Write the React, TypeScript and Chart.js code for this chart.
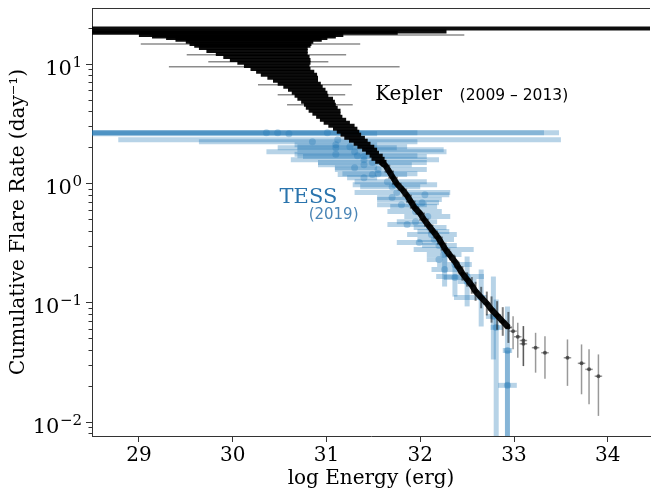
import React, { useEffect, useRef } from "react";
import { Chart, registerables } from "chart.js";

Chart.register(...registerables);

// ---------------- data ----------------
// Kepler: dense cumulative distribution (each row = one flare with energy uncertainty)
const keplerWedgeEnergy = [31.45, 30.29, 30.03, 30.09, 30.12, 30.15, 30.17, 30.18, 30.19, 30.21, 30.22, 30.26, 30.31, 30.36, 30.40, 30.44, 30.47, 30.51, 30.56, 30.60, 30.64, 30.67, 30.71, 30.75, 30.79, 30.82, 30.84, 30.88, 30.91, 30.93, 30.95, 30.98, 31.00, 31.03, 31.07, 31.11, 31.16, 31.20, 31.23, 31.26, 31.30, 31.34, 31.38, 31.42, 31.46, 31.49, 31.53, 31.55, 31.58];
const keplerWedgeEnergyErr = [3.15, 1.99, 1.73, 1.09, 0.98, 0.86, 0.78, 0.68, 0.65, 0.62, 0.58, 0.54, 0.49, 0.46, 0.43, 0.39, 0.35, 0.32, 0.31, 0.30, 0.27, 0.24, 0.23, 0.21, 0.20, 0.19, 0.18, 0.19, 0.18, 0.17, 0.17, 0.17, 0.15, 0.14, 0.14, 0.14, 0.14, 0.13, 0.12, 0.11, 0.11, 0.10, 0.09, 0.09, 0.08, 0.07, 0.07, 0.07, 0.06];
const keplerWedgeRate = [19.8, 18.7, 18.2, 17.5, 17.0, 16.5, 15.9, 15.3, 14.7, 14.2, 13.6, 12.8, 12.1, 11.4, 10.8, 10.2, 9.62, 9.08, 8.58, 8.09, 7.64, 7.21, 6.80, 6.43, 6.06, 5.72, 5.40, 5.09, 4.81, 4.54, 4.28, 4.05, 3.82, 3.60, 3.40, 3.21, 3.03, 2.86, 2.70, 2.55, 2.40, 2.27, 2.14, 2.02, 1.91, 1.80, 1.70, 1.60, 1.51];

// Kepler: isolated long energy error bars
const keplerLongEnergy = [30.15, 30.79, 30.19, 30.36, 30.38, 30.55, 30.77, 30.84, 30.93];
const keplerLongEnergyErr = [1.57, 1.68, 1.17, 0.85, 0.64, 1.23, 0.50, 0.36, 0.35];
const keplerLongRate = [18.5, 17.5, 14.7, 11.9, 10.4, 9.44, 6.67, 5.51, 4.54];

// Kepler: narrow high-energy band
const keplerBandEnergy = [31.58, 31.63, 31.67, 31.71, 31.75, 31.81, 31.86, 31.90, 31.94, 32.00, 32.04, 32.09, 32.14, 32.19, 32.23, 32.27, 32.32, 32.37, 32.41, 32.45, 32.50, 32.55, 32.59, 32.65, 32.71, 32.76, 32.82, 32.88, 32.94];
const keplerBandEnergyErr = [0.05, 0.05, 0.05, 0.05, 0.05, 0.05, 0.05, 0.05, 0.05, 0.05, 0.05, 0.05, 0.05, 0.05, 0.05, 0.05, 0.05, 0.04, 0.04, 0.04, 0.04, 0.04, 0.04, 0.04, 0.04, 0.04, 0.04, 0.04, 0.04];
const keplerBandRate = [1.51, 1.40, 1.25, 1.11, 0.99, 0.883, 0.786, 0.700, 0.624, 0.556, 0.495, 0.441, 0.393, 0.350, 0.312, 0.278, 0.247, 0.220, 0.196, 0.175, 0.156, 0.139, 0.124, 0.110, 0.098, 0.0873, 0.0778, 0.0693, 0.0618];
const keplerBandRateErrDex = [0.03, 0.03, 0.03, 0.03, 0.03, 0.03, 0.03, 0.03, 0.03, 0.03, 0.03, 0.03, 0.03, 0.04, 0.04, 0.04, 0.04, 0.05, 0.05, 0.06, 0.06, 0.07, 0.08, 0.09, 0.10, 0.11, 0.12, 0.12, 0.13];

// Kepler: highest-energy tail
const keplerTailEnergy = [32.99, 33.04, 33.10, 33.10, 33.23, 33.33, 33.57, 33.72, 33.80, 33.90];
const keplerTailEnergyErr = [0.04, 0.04, 0.04, 0.04, 0.04, 0.04, 0.04, 0.04, 0.04, 0.04];
const keplerTailRate = [0.0575, 0.0516, 0.0480, 0.0450, 0.0418, 0.0379, 0.0344, 0.0309, 0.0275, 0.0241];
const keplerTailRateLo = [0.0405, 0.0344, 0.0293, 0.0293, 0.0258, 0.0230, 0.0200, 0.0170, 0.0140, 0.0112];
const keplerTailRateHi = [0.0767, 0.0676, 0.0634, 0.0634, 0.0557, 0.0522, 0.0490, 0.0445, 0.0405, 0.0367];

// TESS (2019)
const tessEnergy = [30.36, 30.48, 30.60, 31.01, 31.12, 30.85, 31.10, 31.25, 31.45, 31.30, 31.10, 31.40, 31.40, 31.40, 31.30, 31.55, 31.55, 31.40, 31.65, 31.70, 31.75, 32.05, 31.88, 32.02, 31.95, 31.95, 32.08, 31.95, 32.10, 32.12, 32.15, 32.20, 32.25, 32.25, 32.20, 32.26, 32.37, 32.50, 32.50, 32.65, 32.78, 32.81, 32.93, 32.93, 31.70, 31.86, 32.14, 31.99, 32.37, 31.10, 31.33, 31.49, 31.49, 31.73, 31.80];
const tessEnergyLo = [28.3, 28.3, 28.3, 28.3, 28.78, 29.64, 30.66, 30.69, 30.69, 30.36, 30.66, 30.62, 30.75, 30.91, 31.09, 31.09, 31.17, 31.22, 31.30, 31.36, 31.30, 31.86, 31.54, 31.89, 31.68, 31.65, 31.83, 31.75, 31.93, 31.86, 31.97, 32.02, 31.93, 32.07, 32.07, 32.12, 32.25, 32.40, 32.17, 32.36, 32.70, 32.75, 32.88, 32.83, 31.54, 31.65, 31.97, 31.75, 32.18, 30.48, 30.69, 30.91, 31.12, 31.28, 31.54];
const tessEnergyHi = [33.48, 33.32, 31.54, 31.97, 33.50, 31.97, 31.54, 31.86, 32.25, 32.28, 31.54, 32.20, 32.07, 31.91, 31.54, 32.07, 31.97, 31.54, 32.07, 32.00, 32.32, 32.31, 32.23, 32.20, 32.18, 32.23, 32.32, 32.18, 32.28, 32.39, 32.36, 32.39, 32.57, 32.44, 32.29, 32.41, 32.50, 32.60, 32.68, 32.71, 32.86, 32.88, 32.98, 33.03, 31.86, 32.07, 32.31, 32.23, 32.55, 31.75, 31.97, 32.07, 31.86, 32.18, 32.07];
const tessRate = [2.65, 2.65, 2.60, 2.65, 2.31, 2.22, 2.10, 2.02, 1.91, 1.83, 1.75, 1.57, 1.67, 1.43, 1.35, 1.30, 1.20, 1.11, 1.03, 0.935, 0.834, 0.80, 0.728, 0.687, 0.636, 0.578, 0.525, 0.476, 0.425, 0.371, 0.337, 0.300, 0.278, 0.252, 0.229, 0.189, 0.162, 0.150, 0.165, 0.110, 0.0764, 0.0618, 0.0396, 0.0202, 0.757, 0.450, 0.393, 0.318, 0.208, 1.98, 1.70, 1.49, 1.18, 0.97, 0.661];
const tessRateLo = [null, null, null, null, null, null, null, null, null, null, null, null, null, null, null, null, null, null, null, null, null, null, null, null, null, null, null, null, null, null, null, null, null, null, null, 0.136, 0.112, 0.0927, null, 0.0629, 0.0333, 0.001, 0.001, 0.001, null, null, null, null, null, null, null, null, null, null, null];
const tessRateHi = [null, null, null, null, null, null, null, null, null, null, null, null, null, null, null, null, null, null, null, null, null, null, null, null, null, null, null, null, null, null, null, null, null, null, null, 0.262, 0.229, 0.243, null, 0.189, 0.165, 0.106, 0.0927, 0.0396, null, null, null, null, null, null, null, null, null, null, null];

// axes
const xTickValues = [29, 30, 31, 32, 33, 34];
const yMajorTicks = [0.01, 0.1, 1, 10];
const yMajorExponents = ["\u22122", "\u22121", "0", "1"];
const yMinorTicks = [0.008, 0.009, 0.02, 0.03, 0.04, 0.05, 0.06, 0.07, 0.08, 0.09, 0.2, 0.3, 0.4, 0.5, 0.6, 0.7, 0.8, 0.9, 2, 3, 4, 5, 6, 7, 8, 9, 20];
const xAxisTitle = "log Energy (erg)";
const yAxisTitle = "Cumulative Flare Rate (day\u207B\u00B9)";

// ---------------- helpers ----------------
type EP = { x: number; y: number; xMin: number; xMax: number; yMin: number; yMax: number };

function symPoints(e: number[], eErr: number[], r: number[]): EP[] {
  return e.map((v, i) => ({ x: v, y: r[i], xMin: v - eErr[i], xMax: v + eErr[i], yMin: r[i], yMax: r[i] }));
}

const SERIF = "'DejaVu Serif', serif";
const SANS = "'DejaVu Sans', sans-serif";

const errorBarPlugin = {
  id: "errorBars",
  beforeDatasetDraw(chart: any, args: any) {
    const ds = chart.data.datasets[args.index];
    const eb = ds.errorBar;
    if (!eb) return;
    const { ctx, chartArea } = chart;
    const xs = chart.scales.x;
    const ys = chart.scales.y;
    ctx.save();
    ctx.beginPath();
    ctx.rect(chartArea.left, chartArea.top, chartArea.right - chartArea.left, chartArea.bottom - chartArea.top);
    ctx.clip();
    ctx.strokeStyle = eb.color;
    ctx.lineWidth = eb.width;
    ctx.lineCap = "butt";
    for (const p of ds.data as EP[]) {
      const py = ys.getPixelForValue(p.y);
      const px = xs.getPixelForValue(p.x);
      if (p.xMax > p.xMin) {
        ctx.beginPath();
        ctx.moveTo(xs.getPixelForValue(p.xMin), py);
        ctx.lineTo(xs.getPixelForValue(p.xMax), py);
        ctx.stroke();
      }
      if (p.yMax > p.yMin) {
        ctx.beginPath();
        ctx.moveTo(px, ys.getPixelForValue(p.yMin));
        ctx.lineTo(px, ys.getPixelForValue(p.yMax));
        ctx.stroke();
      }
    }
    ctx.restore();
  },
};

const decorPlugin = {
  id: "decor",
  afterDraw(chart: any) {
    const { ctx, chartArea } = chart;
    const xs = chart.scales.x;
    const ys = chart.scales.y;
    ctx.save();
    // top spine
    ctx.strokeStyle = "#333";
    ctx.lineWidth = 1;
    ctx.beginPath();
    ctx.moveTo(chartArea.left, chartArea.top + 0.5);
    ctx.lineTo(chartArea.right, chartArea.top + 0.5);
    ctx.stroke();
    // y ticks
    const left = chartArea.left;
    yMinorTicks.forEach((v) => {
      const y = Math.round(ys.getPixelForValue(v)) + 0.5;
      ctx.beginPath();
      ctx.moveTo(left - 3.5, y);
      ctx.lineTo(left, y);
      ctx.stroke();
    });
    yMajorTicks.forEach((v, i) => {
      const y = Math.round(ys.getPixelForValue(v)) + 0.5;
      ctx.beginPath();
      ctx.moveTo(left - 6, y);
      ctx.lineTo(left, y);
      ctx.stroke();
      const right = left - 10;
      ctx.fillStyle = "#000";
      ctx.textBaseline = "alphabetic";
      ctx.font = `15px ${SERIF}`;
      const ew = ctx.measureText(yMajorExponents[i]).width;
      ctx.textAlign = "left";
      ctx.fillText(yMajorExponents[i], right - ew, y + 2);
      ctx.font = `21px ${SERIF}`;
      ctx.textAlign = "right";
      ctx.fillText("10", right - ew - 0.5, y + 10);
    });
    // annotations
    ctx.textAlign = "left";
    ctx.textBaseline = "alphabetic";
    ctx.fillStyle = "#000";
    ctx.font = `20px ${SERIF}`;
    ctx.fillText("Kepler", xs.getPixelForValue(31.52), ys.getPixelForValue(5.0));
    ctx.font = `15.5px ${SANS}`;
    ctx.fillText("(2009 \u2013 2013)", xs.getPixelForValue(32.42), ys.getPixelForValue(5.0));
    ctx.fillStyle = "#2a74ad";
    ctx.font = `21px ${SERIF}`;
    ctx.fillText("TESS", xs.getPixelForValue(30.5), ys.getPixelForValue(0.687));
    ctx.fillStyle = "#4a85b6";
    ctx.font = `15px ${SANS}`;
    ctx.fillText("(2019)", xs.getPixelForValue(30.81), ys.getPixelForValue(0.505));
    ctx.restore();
  },
};

export default function App() {
  const canvasRef = useRef<HTMLCanvasElement | null>(null);

  useEffect(() => {
    document.body.style.margin = "0";
    const canvas = canvasRef.current;
    if (!canvas) return;

    const wedge = symPoints(keplerWedgeEnergy, keplerWedgeEnergyErr, keplerWedgeRate);
    const longBars = symPoints(keplerLongEnergy, keplerLongEnergyErr, keplerLongRate);
    const band = keplerBandEnergy.map((e, i) => ({
      x: e,
      y: keplerBandRate[i],
      xMin: e - keplerBandEnergyErr[i],
      xMax: e + keplerBandEnergyErr[i],
      yMin: keplerBandRate[i] / Math.pow(10, keplerBandRateErrDex[i]),
      yMax: keplerBandRate[i] * Math.pow(10, keplerBandRateErrDex[i]),
    }));
    const tail = keplerTailEnergy.map((e, i) => ({
      x: e,
      y: keplerTailRate[i],
      xMin: e - keplerTailEnergyErr[i],
      xMax: e + keplerTailEnergyErr[i],
      yMin: keplerTailRateLo[i],
      yMax: keplerTailRateHi[i],
    }));
    const tess = tessEnergy.map((e, i) => ({
      x: e,
      y: tessRate[i],
      xMin: tessEnergyLo[i],
      xMax: tessEnergyHi[i],
      yMin: tessRateLo[i] ?? tessRate[i],
      yMax: tessRateHi[i] ?? tessRate[i],
    }));

    const chart = new Chart(canvas, {
      type: "scatter",
      data: {
        datasets: [
          {
            label: "Kepler tail",
            data: tail,
            pointRadius: 2,
            pointBackgroundColor: "rgba(60,60,60,0.8)",
            pointBorderWidth: 0,
            errorBar: { color: "rgba(0,0,0,0.4)", width: 1.5 },
          } as any,
          {
            label: "Kepler band",
            data: band,
            showLine: true,
            borderColor: "rgba(0,0,0,0.95)",
            borderWidth: 6,
            tension: 0,
            pointRadius: 2,
            pointBackgroundColor: "rgba(0,0,0,0.9)",
            pointBorderWidth: 0,
            errorBar: { color: "rgba(0,0,0,0.5)", width: 2 },
          } as any,
          {
            label: "Kepler long",
            data: longBars,
            pointRadius: 0,
            errorBar: { color: "rgba(0,0,0,0.45)", width: 1.5 },
          } as any,
          {
            label: "Kepler",
            data: wedge,
            pointRadius: 0,
            errorBar: { color: "rgba(0,0,0,0.95)", width: 4 },
          } as any,
          {
            label: "TESS",
            data: tess,
            pointRadius: 3.5,
            pointBackgroundColor: "rgba(31,119,180,0.32)",
            pointBorderWidth: 0,
            errorBar: { color: "rgba(31,119,180,0.32)", width: 5 },
          } as any,
        ],
      },
      options: {
        animation: false,
        responsive: false,
        maintainAspectRatio: false,
        layout: { padding: { top: 8, right: 0, left: 0, bottom: 0 } },
        plugins: { legend: { display: false }, tooltip: { enabled: false } },
        scales: {
          x: {
            type: "linear",
            position: "bottom",
            min: 28.5,
            max: 34.45,
            afterBuildTicks: (s: any) => {
              s.ticks = xTickValues.map((v) => ({ value: v }));
            },
            afterFit: (s: any) => {
              s.height = 56;
            },
            ticks: {
              font: { family: SERIF, size: 20 },
              color: "#000",
              padding: 2,
              maxRotation: 0,
              autoSkip: false,
              callback: (v: any) => String(v),
            },
            grid: { display: true, drawOnChartArea: false, drawTicks: true, tickLength: 6, color: "#333", lineWidth: 1 },
            border: { display: true, color: "#333", width: 1 },
            title: { display: true, text: xAxisTitle, font: { family: SERIF, size: 20 }, color: "#000", padding: { top: 0, bottom: 1 } },
          },
          y: {
            type: "logarithmic",
            position: "left",
            min: 0.0076,
            max: 29.4,
            afterBuildTicks: (s: any) => {
              s.ticks = [...yMinorTicks, ...yMajorTicks].sort((a, b) => a - b).map((v) => ({ value: v }));
            },
            afterFit: (s: any) => {
              s.width = 92;
            },
            ticks: { display: false },
            grid: { display: false },
            border: { display: true, color: "#333", width: 1 },
            title: { display: true, text: yAxisTitle, font: { family: SERIF, size: 20 }, color: "#000", padding: { top: 7, bottom: 0 } },
          },
        },
      } as any,
      plugins: [errorBarPlugin, decorPlugin],
    });

    return () => chart.destroy();
  }, []);

  return (
    <div style={{ width: 654, height: 492, background: "#fff" }}>
      <canvas ref={canvasRef} width={654} height={492} style={{ display: "block" }} />
    </div>
  );
}
